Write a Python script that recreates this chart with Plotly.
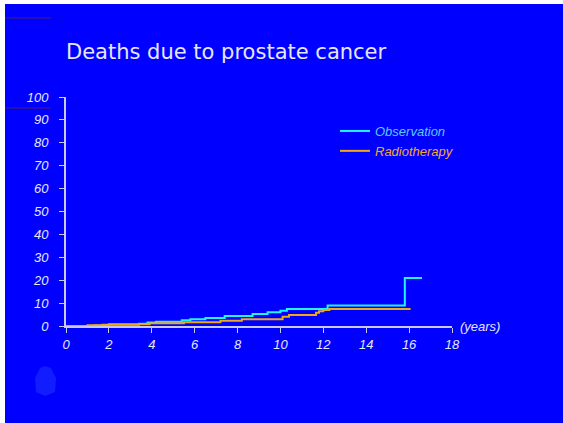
import plotly.graph_objects as go

# Data
obs_years = [0, 1.3, 2.0, 3.4, 3.8, 4.2, 5.4, 5.8, 6.5, 7.4, 8.7, 9.4, 10.0, 10.3, 12.2, 15.8, 16.6]
obs_deaths = [0, 0.2, 0.5, 1.0, 1.5, 1.9, 2.5, 3.0, 3.5, 4.4, 5.2, 6.0, 6.7, 7.4, 8.9, 21, 21]
rt_years = [0, 1.0, 1.7, 2.0, 3.9, 5.5, 7.2, 8.2, 10.1, 10.4, 11.66, 11.8, 12.0, 12.28, 16.07]
rt_deaths = [0, 0.3, 0.5, 0.8, 1.2, 1.6, 2.3, 3.0, 4.0, 4.8, 5.8, 6.4, 7.0, 7.4, 7.4]
x_ticks = [0, 2, 4, 6, 8, 10, 12, 14, 16, 18]
y_ticks = [0, 10, 20, 30, 40, 50, 60, 70, 80, 90, 100]

W, H = 563, 423
L, R, T, B = 66, 111, 97, 97
BLUE = "#0000FF"
TXT = "#E6E6FF"
AX = "#C8C8F0"

fig = go.Figure()
fig.add_trace(go.Scatter(
    x=obs_years, y=obs_deaths, mode="lines", line_shape="hv",
    line=dict(color="#22F5FF", width=2),
    name="<span style='color:#5CC8FF'><i>Observation</i></span>",
    cliponaxis=False))
fig.add_trace(go.Scatter(
    x=rt_years, y=rt_deaths, mode="lines", line_shape="hv",
    line=dict(color="#F0A818", width=2),
    name="<span style='color:#F5A830'><i>Radiotherapy</i></span>",
    cliponaxis=False))

pw = W - L - R
ph = H - T - B
def px_x(p):
    return (p - L) / pw
def px_y(p):
    return (H - B - p) / ph

shapes = [
    dict(type="rect", xref="paper", yref="paper", x0=px_x(5), x1=px_x(570),
         y0=px_y(430), y1=px_y(4), fillcolor=BLUE, line_width=0, layer="below"),
    dict(type="line", xref="paper", yref="paper", x0=px_x(5), x1=px_x(51),
         y0=px_y(18), y1=px_y(18), line=dict(color="#4A2070", width=1)),
    dict(type="line", xref="paper", yref="paper", x0=px_x(5), x1=px_x(51),
         y0=px_y(108), y1=px_y(108), line=dict(color="#4A2070", width=1)),
    dict(type="path", xref="paper", yref="paper",
         path=(f"M {px_x(36)},{px_y(392)} L {px_x(35)},{px_y(378)} L {px_x(40)},{px_y(368)} "
               f"L {px_x(45)},{px_y(366)} L {px_x(51)},{px_y(368)} L {px_x(56)},{px_y(378)} "
               f"L {px_x(55)},{px_y(392)} L {px_x(45)},{px_y(396)} Z"),
         fillcolor="rgba(80,130,255,0.22)", line_width=0),
]

fig.update_layout(
    width=W, height=H,
    margin=dict(l=L, r=R, t=T, b=B),
    paper_bgcolor="white",
    plot_bgcolor=BLUE,
    shapes=shapes,
    title=dict(text="Deaths due to prostate cancer", x=L / W,
               xanchor="left", xref="container", y=1 - 52 / H, yanchor="middle", yref="container",
               font=dict(family="DejaVu Sans", size=21, color=TXT)),
    legend=dict(x=px_x(335), y=px_y(116), xanchor="left", yanchor="top",
                bgcolor="rgba(0,0,0,0)", font=dict(family="Liberation Sans", size=13),
                itemwidth=30, tracegroupgap=2),
    font=dict(family="Liberation Sans", color=TXT),
    xaxis=dict(range=[0, 18], tickvals=x_ticks, ticktext=[f"<i>{v}</i>" for v in x_ticks],
               showgrid=False, zeroline=False, showline=True, linecolor=AX, linewidth=2,
               ticks="outside", ticklen=5, tickcolor=AX, tickwidth=1,
               tickfont=dict(family="Liberation Sans", size=13, color=TXT)),
    yaxis=dict(range=[0, 100], tickvals=y_ticks, ticktext=[f"<i>{v}</i>" for v in y_ticks],
               showgrid=False, zeroline=False, showline=True, linecolor=AX, linewidth=2,
               ticks="outside", ticklen=5, tickcolor=AX, tickwidth=1,
               ticklabelstandoff=8,
               tickfont=dict(family="Liberation Sans", size=13, color=TXT)),
    annotations=[dict(text="<i>(years)</i>", xref="paper", yref="paper",
                      x=1, y=0, xanchor="left", yanchor="middle", xshift=6, showarrow=False,
                      font=dict(family="Liberation Sans", size=13, color=TXT))],
)

fig.write_html("out.html", config={"displayModeBar": False},
               post_script="document.body.style.margin='0px';document.body.style.overflow='hidden';")
